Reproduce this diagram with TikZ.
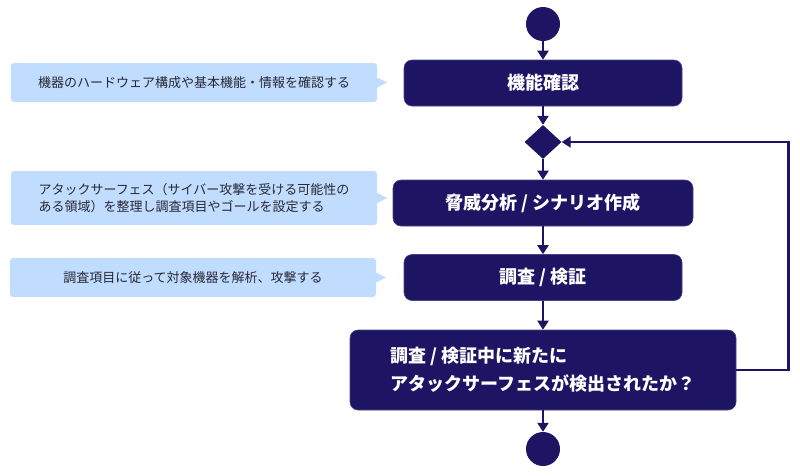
\documentclass[tikz,border=0pt]{standalone}
\usepackage{fontspec}
\setmainfont{Noto Sans CJK JP}
\usepackage{tikz}
\usetikzlibrary{arrows.meta,shapes.geometric}

\definecolor{navy}{RGB}{30,20,100}
\definecolor{notecol}{RGB}{192,220,255}
\definecolor{notetext}{RGB}{40,40,50}

\begin{document}
\begin{tikzpicture}[x=1pt,y=-1pt]
      \tikzset { stepbox/.style = { rectangle,rounded corners=8pt,fill=navy,draw=navy!80!white,line width=0.6pt,
                                    text=white,font=\fontsize{18}{28}\selectfont\bfseries,inner sep=0pt } }
      \tikzset { note/.style = { rectangle,rounded corners=3pt,fill=notecol,text=notetext,
                                 minimum width=366pt,minimum height=39pt,inner sep=0pt,
                                 font=\fontsize{13}{17}\selectfont } }
      \tikzset { terminal/.style = { circle,fill=navy,minimum size=34pt,inner sep=0pt } }
      \tikzset { edge/.style = { -{Triangle[width=11pt,length=9pt]},line width=2.4pt,draw=navy } }

      \useasboundingbox (0,0) rectangle (800,475);

      \node[terminal] (start) at (543,24) {};
      \node[stepbox,minimum width=278pt,minimum height=46pt] (check) at (543,83) {機能確認};
      \node[diamond,fill=navy,minimum width=37pt,minimum height=34pt,inner sep=0pt,shape aspect=1] (merge) at (543,142) {};
      \node[stepbox,minimum width=300pt,minimum height=46pt] (threat) at (543,203) {脅威分析 / シナリオ作成};
      \node[stepbox,minimum width=278pt,minimum height=46pt] (test) at (543,277.5) {調査 / 検証};
      \node[stepbox,minimum width=386pt,minimum height=80pt,align=left] (found) at (543,370)
            {調査 / 検証中に新たに\\アタックサーフェスが検出されたか？};
      \node[terminal] (end) at (543,449) {};

      \node[note] (n1) at (194,82.5) {機器のハードウェア構成や基本機能・情報を確認する};
      \node[note,minimum height=54pt,align=left] (n2) at (194,198)
            {アタックサーフェス（サイバー攻撃を受ける可能性の\\ある領域）を整理し調査項目やゴールを設定する};
      \node[note] (n3) at (193,277.5) {調査項目に従って対象機器を解析、攻撃する};

      \fill[notecol] ([yshift=5pt]n1.east) -- ([xshift=10pt]n1.east) -- ([yshift=-5pt]n1.east) -- cycle;
      \fill[notecol] ([yshift=5pt]n2.east) -- ([xshift=10pt]n2.east) -- ([yshift=-5pt]n2.east) -- cycle;
      \fill[notecol] ([yshift=5pt]n3.east) -- ([xshift=10pt]n3.east) -- ([yshift=-5pt]n3.east) -- cycle;

      \draw[edge] (start) to (check);
      \draw[edge] (check) to (merge);
      \draw[edge] (merge) to (threat);
      \draw[edge] (threat) to (test);
      \draw[edge] (test) to (found);
      \draw[edge] (found) to (end);
      \draw[edge] (found.east) -- ++(52,0) |- (merge.east);

    \end{tikzpicture}
\end{document}
